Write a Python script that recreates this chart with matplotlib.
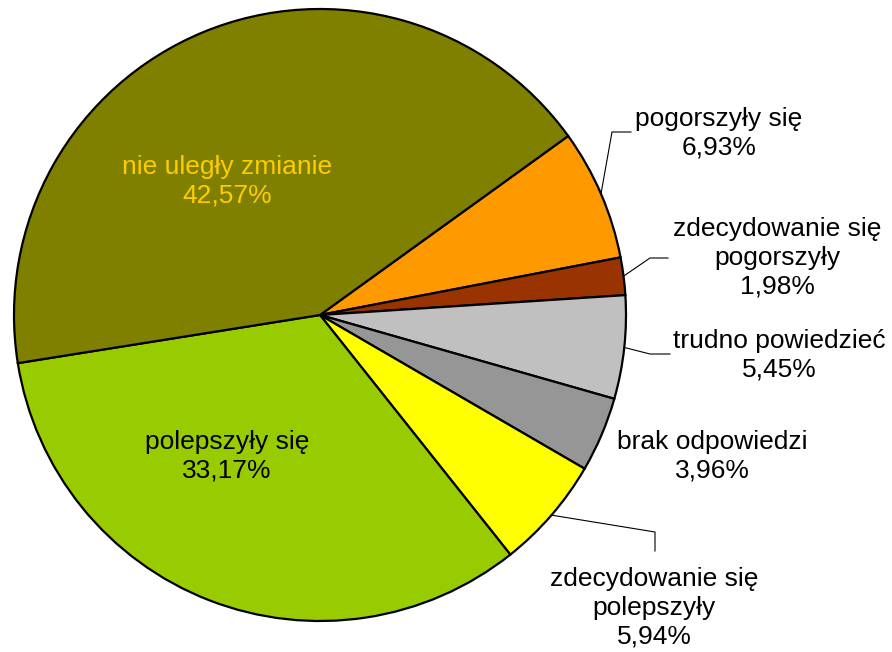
import numpy as np
import matplotlib
matplotlib.use("Agg")
import matplotlib.pyplot as plt

categories = ["pogorszyły się", "zdecydowanie się\npogorszyły", "trudno powiedzieć",
              "brak odpowiedzi", "zdecydowanie się\npolepszyły", "polepszyły się",
              "nie uległy zmianie"]
values = [6.93, 1.98, 5.45, 3.96, 5.94, 33.17, 42.57]
value_labels = ["6,93%", "1,98%", "5,45%", "3,96%", "5,94%", "33,17%", "42,57%"]
colors = ["#FF9900", "#993300", "#C0C0C0", "#969696", "#FFFF00", "#99CC00", "#808000"]

W, H = 892, 652
fig = plt.figure(figsize=(W / 100, H / 100), dpi=100)
ax = fig.add_axes([0, 0, 1, 1])

cx, cy, R = 320, H - 315, 306
start = 35.8
wedges, _ = ax.pie(values, colors=colors, startangle=start, counterclock=False,
                   center=(cx, cy), radius=R, frame=True,
                   wedgeprops=dict(edgecolor="black", linewidth=1.6))
ax.set_xlim(0, W)
ax.set_ylim(0, H)
ax.set_aspect("equal")
ax.axis("off")

font = dict(family=["Liberation Sans", "DejaVu Sans"], fontsize=19, ha="center", va="center",
            linespacing=1.25)

def mid_point(i):
    w = wedges[i]
    a = np.deg2rad((w.theta1 + w.theta2) / 2)
    return cx + R * np.cos(a), cy + R * np.sin(a)

# label positions (pixel layout, y from top)
label_pos = {
    0: (719, 133),
    1: (777, 258),
    2: (779, 355),
    3: (712, 456),
    4: (654, 608),
    5: (227, 456),
    6: (227, 181),
}
for i, (x, y) in label_pos.items():
    color = "#FFCC00" if i == 6 else "black"
    ax.text(x, H - y, categories[i] + "\n" + value_labels[i], color=color, **font)

# leader lines: (elbow, end) in pixel layout
leaders = {
    0: [(612, 132), (631, 132)],
    1: [(650, 258), (668, 258)],
    2: [(650, 354), (670, 354)],
    4: [(655, 532), (655, 551)],
}
for i, pts in leaders.items():
    x0, y0 = mid_point(i)
    xs = [x0] + [p[0] for p in pts]
    ys = [y0] + [H - p[1] for p in pts]
    ax.plot(xs, ys, color="black", linewidth=0.8)

fig.savefig("out.png", dpi=100)
